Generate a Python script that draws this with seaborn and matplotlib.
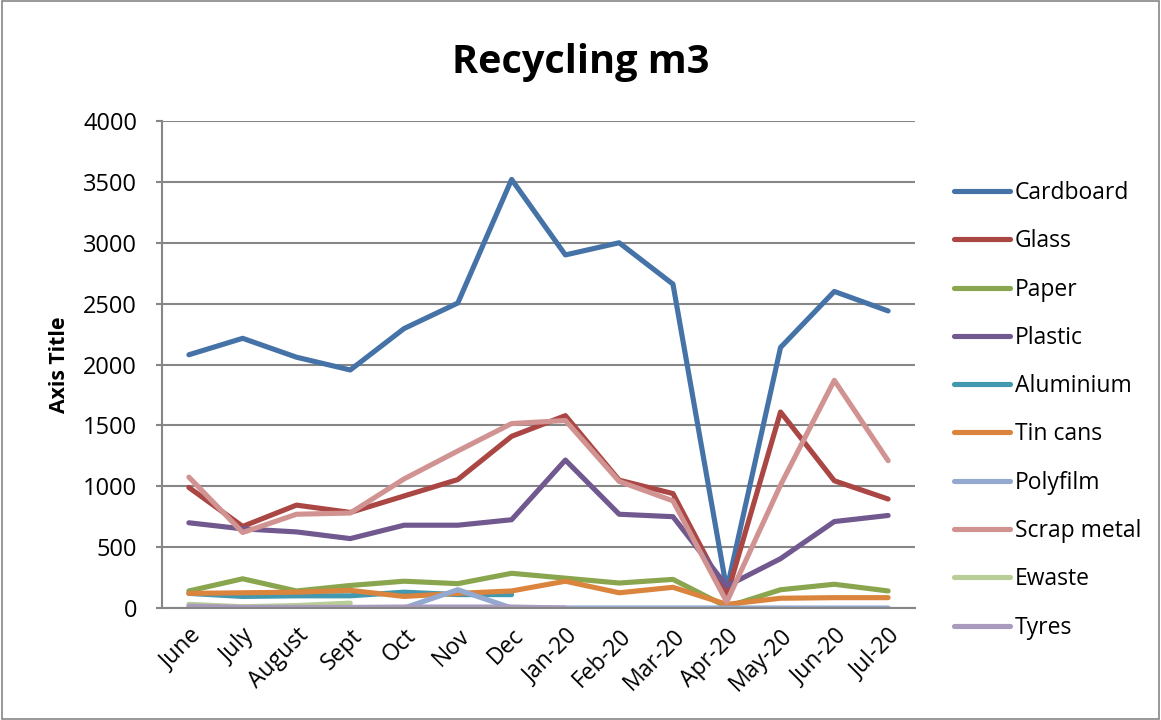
import numpy as np
import pandas as pd
import matplotlib
matplotlib.use("Agg")
import matplotlib.pyplot as plt
import seaborn as sns

# Dados
meses = ["June", "July", "August", "Sept", "Oct", "Nov", "Dec",
         "Jan-20", "Feb-20", "Mar-20", "Apr-20", "May-20", "Jun-20", "Jul-20"]
nan = np.nan
cardboard = [2080, 2215, 2060, 1955, 2295, 2505, 3520, 2900, 3000, 2660, 150, 2140, 2600, 2440]
glass = [990, 670, 845, 785, 920, 1055, 1410, 1580, 1050, 940, 100, 1610, 1045, 895]
paper = [140, 240, 140, 185, 220, 200, 285, 245, 205, 235, 10, 150, 195, 140]
plastic = [700, 650, 625, 570, 680, 680, 725, 1215, 770, 750, 180, 405, 710, 760]
aluminium = [120, 95, 100, 100, 130, 110, 110, nan, nan, nan, nan, nan, nan, nan]
tin_cans = [120, 125, 130, 145, 95, 120, 140, 220, 125, 170, 30, 80, 85, 85]
polyfilm = [0, 0, 0, 0, 0, 150, 0, 0, 0, 0, 0, 0, 0, 0]
scrap_metal = [1075, 620, 770, 780, 1060, 1290, 1515, 1540, 1040, 880, 50, 1010, 1870, 1210]
ewaste = [30, 10, 20, 40, nan, nan, nan, nan, nan, nan, nan, nan, nan, nan]
tyres = [15, 5, 5, 5, 8, 8, 8, 0, nan, nan, nan, nan, nan, nan]

series = {
    "Cardboard": cardboard, "Glass": glass, "Paper": paper, "Plastic": plastic,
    "Aluminium": aluminium, "Tin cans": tin_cans, "Polyfilm": polyfilm,
    "Scrap metal": scrap_metal, "Ewaste": ewaste, "Tyres": tyres,
}
cores = ["#4572A7", "#AA4643", "#89A54E", "#71588F", "#4198AF",
         "#DB843D", "#93A9CF", "#D19392", "#B9CD96", "#A99BBD"]

linhas = []
for nome, vals in series.items():
    for i, v in enumerate(vals):
        linhas.append({"pos": i, "valor": v, "tipo": nome})
dados = pd.DataFrame(linhas).dropna()

sns.set_style("white")
plt.rcParams["font.family"] = ["Open Sans", "DejaVu Sans"]
plt.rcParams["text.color"] = "black"
plt.rcParams["xtick.color"] = "black"
plt.rcParams["ytick.color"] = "black"
plt.rcParams["axes.labelcolor"] = "black"

fig = plt.figure(figsize=(11.61, 7.2), dpi=100)
ax = fig.add_axes([162 / 1161, 1 - 608 / 720, (915 - 162) / 1161, (608 - 121) / 720])

sns.lineplot(data=dados, x="pos", y="valor", hue="tipo", hue_order=list(series.keys()),
             palette=cores, linewidth=3.7, ax=ax, solid_capstyle="round")

ax.set_xlim(-0.5, len(meses) - 0.5)
ax.set_ylim(0, 4000)
ax.set_yticks(range(0, 4001, 500))
ax.set_xticks(range(len(meses)))
ax.set_xticklabels(meses, rotation=45, ha="right", rotation_mode="anchor", fontsize=16.5)
ax.tick_params(axis="y", labelsize=17, left=True, length=4, width=1.5, color="#868686",
               direction="out", pad=14)
ax.tick_params(axis="x", bottom=False, pad=8)
ax.yaxis.grid(True, color="#868686", linewidth=1.5)
ax.set_axisbelow(True)
for lado in ["top", "right"]:
    ax.spines[lado].set_visible(False)
for lado in ["left", "bottom"]:
    ax.spines[lado].set_color("#868686")
    ax.spines[lado].set_linewidth(1.5)

ax.set_xlabel("")
ax.set_ylabel("Axis Title", fontsize=15.3, fontweight="bold", labelpad=9)
fig.text(0.5, 1 - 62 / 720, "Recycling m3", ha="center", va="center",
         fontsize=28.5, fontweight="bold")

leg = ax.legend(loc="upper left", bbox_to_anchor=(954 / 1161, 1 - 181 / 720),
                bbox_transform=fig.transFigure, frameon=False, fontsize=16.5,
                handlelength=2.45, labelspacing=1.06, handletextpad=0.2,
                borderpad=0, borderaxespad=0)
for linha in leg.get_lines():
    linha.set_linewidth(3.7)

# Borda da figura
fig.patches.append(plt.Rectangle((0.002, 0.002), 0.996, 0.996, transform=fig.transFigure,
                                 fill=False, edgecolor="#868686", linewidth=1.2))

fig.savefig("out.png", dpi=100)
